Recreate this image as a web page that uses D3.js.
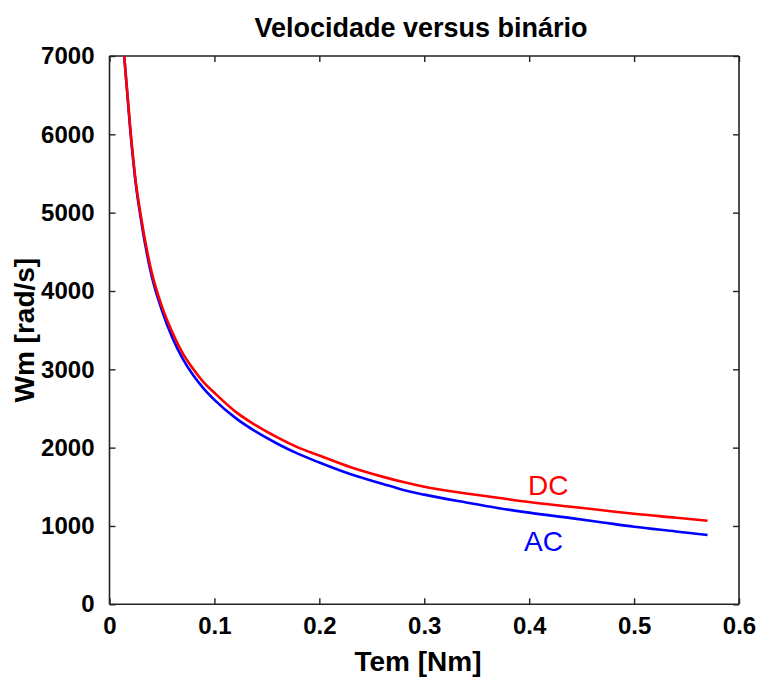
<!DOCTYPE html>
<html>
<head>
<meta charset="utf-8">
<script src="https://cdn.jsdelivr.net/npm/d3@7"></script>
<style>
  html, body { margin: 0; padding: 0; background: #fff; }
  svg { display: block; }
  text { font-family: "Liberation Sans", Arial, Helvetica, sans-serif; }
</style>
</head>
<body>
<svg id="chart" width="761" height="679"></svg>
<script>
// ---- Data ----
const torque = [0.014, 0.02, 0.025, 0.03, 0.04, 0.05, 0.06, 0.07, 0.08, 0.09, 0.10, 0.12, 0.14, 0.16, 0.18, 0.20, 0.23, 0.26, 0.28, 0.30, 0.34, 0.37, 0.40, 0.44, 0.47, 0.50, 0.54, 0.57];
const speedDC = [7000, 6050, 5400, 4950, 4250, 3800, 3470, 3200, 3000, 2830, 2700, 2460, 2280, 2130, 2000, 1900, 1750, 1630, 1560, 1500, 1415, 1360, 1305, 1245, 1200, 1155, 1105, 1067];
const speedAC = [7000, 6020, 5370, 4910, 4200, 3750, 3400, 3130, 2920, 2750, 2610, 2380, 2200, 2050, 1920, 1810, 1660, 1540, 1460, 1400, 1300, 1230, 1170, 1100, 1045, 990, 930, 884];
const xTicks = [0, 0.1, 0.2, 0.3, 0.4, 0.5, 0.6];
const yTicks = [0, 1000, 2000, 3000, 4000, 5000, 6000, 7000];
const seriesNames = ["DC", "AC"];
const seriesColors = ["#ff0000", "#0000ff"];
const titleText = "Velocidade versus binário";
const xLabelText = "Tem [Nm]";
const yLabelText = "Wm [rad/s]";

// ---- Layout ----
const pLeft = 109.5, pRight = 739, pTop = 56, pBottom = 604.3;
const svg = d3.select("#chart");

const x = d3.scaleLinear().domain([0, 0.6]).range([pLeft, pRight]);
const y = d3.scaleLinear().domain([0, 7000]).range([pBottom, pTop]);

const axisColor = "#222";
const tickLen = 6;

const gBottom = svg.append("g").attr("transform", `translate(0,${pBottom})`)
  .call(d3.axisBottom(x).tickValues(xTicks).tickSize(-tickLen).tickPadding(13).tickFormat(d3.format("")));
const gTop = svg.append("g").attr("transform", `translate(0,${pTop})`)
  .call(d3.axisTop(x).tickValues(xTicks).tickSize(-tickLen).tickFormat(""));
const gLeft = svg.append("g").attr("transform", `translate(${pLeft},0)`)
  .call(d3.axisLeft(y).tickValues(yTicks).tickSize(-tickLen).tickPadding(15).tickFormat(d3.format("")));
const gRight = svg.append("g").attr("transform", `translate(${pRight},0)`)
  .call(d3.axisRight(y).tickValues(yTicks).tickSize(-tickLen).tickFormat(""));

[gBottom, gTop, gLeft, gRight].forEach(g => {
  g.select(".domain").attr("stroke", axisColor).attr("stroke-width", 1.6);
  g.selectAll(".tick line").attr("stroke", axisColor).attr("stroke-width", 1.4);
  g.selectAll(".tick text").attr("fill", "#000").attr("font-size", 24).attr("font-weight", "bold")
    .attr("font-family", "'Liberation Sans', Arial, sans-serif");
});
[gBottom, gTop].forEach(g => g.select(".domain").attr("d", `M${pLeft},0H${pRight}`));
[gLeft, gRight].forEach(g => g.select(".domain").attr("d", `M0,${pBottom}V${pTop}`));

svg.append("clipPath").attr("id", "plotclip").append("rect")
  .attr("x", pLeft).attr("y", pTop).attr("width", pRight - pLeft).attr("height", pBottom - pTop);

const line = d3.line().curve(d3.curveMonotoneX);
const dataAC = torque.map((t, i) => [x(t), y(speedAC[i])]);
const dataDC = torque.map((t, i) => [x(t), y(speedDC[i])]);

svg.append("path").attr("d", line(dataAC)).attr("fill", "none")
  .attr("stroke", seriesColors[1]).attr("stroke-width", 2.6).attr("clip-path", "url(#plotclip)");
svg.append("path").attr("d", line(dataDC)).attr("fill", "none")
  .attr("stroke", seriesColors[0]).attr("stroke-width", 2.6).attr("clip-path", "url(#plotclip)");

svg.append("text").attr("x", 528).attr("y", 495).attr("font-size", 28)
  .attr("fill", seriesColors[0]).text(seriesNames[0]);
svg.append("text").attr("x", 524).attr("y", 551).attr("font-size", 28)
  .attr("fill", seriesColors[1]).text(seriesNames[1]);

svg.append("text").attr("x", 421).attr("y", 37).attr("text-anchor", "middle")
  .attr("font-size", 27).attr("font-weight", "bold").text(titleText);
svg.append("text").attr("x", 418).attr("y", 671).attr("text-anchor", "middle")
  .attr("font-size", 28).attr("font-weight", "bold").text(xLabelText);
svg.append("text").attr("transform", `translate(34,${(pTop + pBottom) / 2}) rotate(-90)`)
  .attr("text-anchor", "middle").attr("font-size", 28).attr("font-weight", "bold").text(yLabelText);
</script>
</body>
</html>
